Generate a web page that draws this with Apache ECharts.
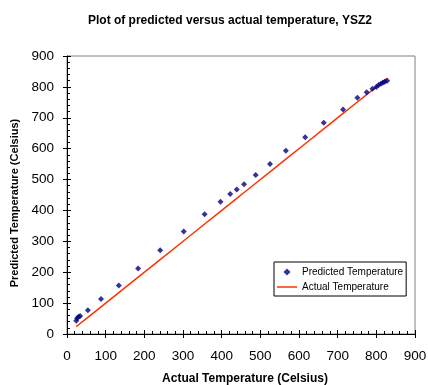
<!DOCTYPE html>
<html>
<head>
<meta charset="utf-8">
<script src="https://cdn.jsdelivr.net/npm/echarts@6/dist/echarts.min.js"></script>
<style>
html,body{margin:0;padding:0;background:#fff;}
#chart{width:428px;height:385px;}
</style>
</head>
<body>
<div id="chart"></div>
<script>
// Data
const actualTemp = [24, 26, 30, 34, 54, 88, 134, 184, 241, 302, 356, 397, 422, 439, 458, 488, 525, 566, 616, 664, 714, 751, 775, 790, 800, 806, 812, 817, 822, 828];
const predictedTemp = [43, 51, 56, 58, 77, 113, 157, 212, 271, 332, 388, 428, 453, 468, 485, 515, 550, 593, 637, 684, 727, 765, 783, 794, 800, 806, 810, 814, 817, 820];
const axisTicks = [0, 100, 200, 300, 400, 500, 600, 700, 800, 900];
const chartTitle = 'Plot of predicted versus actual temperature, YSZ2';
const xTitle = 'Actual Temperature (Celsius)';
const yTitle = 'Predicted Temperature (Celsius)';
const seriesNames = ['Predicted Temperature', 'Actual Temperature'];

const predictedPoints = actualTemp.map((a, i) => [a, predictedTemp[i]]);
const actualPoints = actualTemp.map(a => [a, a]);

const FONT = 'Liberation Sans, Arial, sans-serif';
const axMin = axisTicks[0], axMax = axisTicks[axisTicks.length - 1];
const axStep = axisTicks[1] - axisTicks[0];

function mainAxis(extra) {
  return Object.assign({
    type: 'value', min: axMin, max: axMax, interval: axStep,
    axisLine: { show: true, lineStyle: { color: '#000', width: 1 } },
    axisTick: { show: true, inside: false, length: 4, lineStyle: { color: '#000' } },
    minorTick: { show: false },
    splitLine: { show: false }
  }, extra);
}
function innerAxis(extra) {
  return Object.assign({
    type: 'value', min: axMin, max: axMax, interval: axStep,
    axisLine: { show: false },
    axisTick: { show: true, inside: true, length: 4, lineStyle: { color: '#000' } },
    minorTick: { show: true, splitNumber: 5, length: 3, lineStyle: { color: '#000' } },
    splitLine: { show: false },
    axisLabel: { show: false }
  }, extra);
}

const chart = echarts.init(document.getElementById('chart'), null, { renderer: 'canvas' });
chart.setOption({
  animation: false,
  backgroundColor: '#fff',
  title: {
    text: chartTitle, left: 225, top: 10, textAlign: 'center',
    textStyle: { fontFamily: FONT, fontSize: 12, fontWeight: 'bold', color: '#000' }
  },
  grid: {
    left: 67, right: 13, top: 56, bottom: 51, show: true,
    borderColor: '#808080', borderWidth: 1, backgroundColor: 'transparent',
    containLabel: false, outerBoundsMode: 'none'
  },
  xAxis: [
    mainAxis({
      position: 'bottom', name: xTitle, nameLocation: 'middle', nameGap: 39,
      axisLabel: { color: '#000', fontFamily: FONT, fontSize: 13.5, margin: 15 },
      nameTextStyle: { color: '#000', fontFamily: FONT, fontSize: 12, fontWeight: 'bold', padding: [0, 0, 0, 8] }
    }),
    innerAxis({ position: 'bottom' })
  ],
  yAxis: [
    mainAxis({
      position: 'left', name: yTitle, nameLocation: 'middle', nameGap: 47,
      axisLabel: { color: '#000', fontFamily: FONT, fontSize: 13.5, margin: 13 },
      nameTextStyle: { color: '#000', fontFamily: FONT, fontSize: 11, fontWeight: 'bold', padding: [0, 16, 0, 0] }
    }),
    innerAxis({ position: 'left' })
  ],
  legend: {
    left: 274, top: 262, orient: 'vertical',
    backgroundColor: '#fff', borderColor: '#000', borderWidth: 1,
    padding: [5, 3, 4, 3], itemGap: 5, itemWidth: 20, itemHeight: 7,
    textStyle: { fontFamily: FONT, fontSize: 10, color: '#000' },
    data: [
      { name: seriesNames[0], icon: 'path://M3,0 L6,3 L3,6 L0,3 Z' },
      { name: seriesNames[1], icon: 'path://M0,0 L20,0 L20,1.5 L0,1.5 Z' }
    ]
  },
  series: [
    {
      name: seriesNames[1], type: 'line', data: actualPoints, xAxisIndex: 0, yAxisIndex: 0,
      symbol: 'none', lineStyle: { color: '#FF3300', width: 1.5 }, itemStyle: { color: '#FF3300' }, z: 2
    },
    {
      name: seriesNames[0], type: 'scatter', data: predictedPoints, xAxisIndex: 0, yAxisIndex: 0,
      symbol: 'diamond', symbolSize: [6, 6], itemStyle: { color: '#000080' }, z: 3
    }
  ]
});
</script>
</body>
</html>
